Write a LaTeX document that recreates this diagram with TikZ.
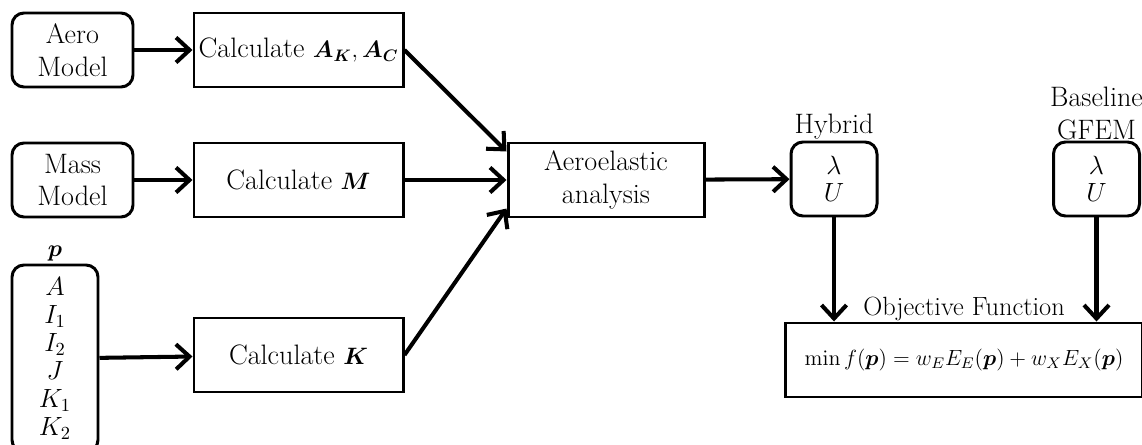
\documentclass[tikz,border=0pt]{standalone}
\usepackage{fix-cm}
\usepackage{amsmath,bm}
\usetikzlibrary{arrows.meta, positioning}

\newcommand{\mathsz}{\fontsize{13.5}{15}\selectfont}

\begin{document}
\begin{tikzpicture}[
        modelbox/.style={rectangle, rounded corners=0.24cm, draw, line width=1.7pt,
                         minimum width=2.42cm, minimum height=1.48cm, align=center,
                         inner sep=1pt},
        calcbox/.style={rectangle, draw, line width=1.7pt,
                        minimum width=4.18cm, minimum height=1.48cm, align=center,
                        inner sep=1pt},
        resbox/.style={rectangle, rounded corners=0.24cm, draw, line width=1.7pt,
                       minimum width=1.72cm, minimum height=1.48cm, align=center,
                       inner sep=1pt, font=\fontsize{15}{15}\selectfont},
        flow/.style={->, line width=2.3pt},
        >={Straight Barb[length=0.27cm, width=0.5cm]},
        font=\fontsize{16}{18.5}\selectfont
    ]
        \useasboundingbox (0,0) rectangle (22.84,-8.9);

        \node[modelbox] (aero) at (1.45,-1.0) {Aero\\Model};
        \node[calcbox] (calcA) at (5.97,-1.0)
            {Calculate {\mathsz$\bm{A_K},\bm{A_C}$}};
        \node[modelbox] (mass) at (1.45,-3.6) {Mass\\Model};
        \node[calcbox] (calcM) at (5.97,-3.6) {Calculate {\mathsz$\bm{M}$}};
        \node[modelbox, minimum width=1.72cm, minimum height=3.74cm,
              font=\fontsize{15}{15.9}\selectfont]
            (param) at (1.1,-7.17)
            {$A$\\$I_1$\\$I_2$\\$J$\\$K_1$\\$K_2$};
        \node[above=-2pt of param] (plabel) {\mathsz$\bm{p}$};
        \node[calcbox] (calcK) at (5.97,-7.1) {Calculate {\mathsz$\bm{K}$}};

        \node[calcbox, minimum width=3.92cm] (aeroel) at (12.12,-3.6)
            {Aeroelastic\\analysis};

        \node[resbox] (hybrid) at (16.68,-3.58) {$\lambda$\\$U$};
        \node[above=-3pt of hybrid] (hlabel) {Hybrid};
        \node[resbox] (base) at (21.93,-3.58) {$\lambda$\\$U$};
        \node[above=-3pt of base, align=center] (blabel) {Baseline\\GFEM};

        \node[calcbox, minimum width=7.14cm, font=\fontsize{12.5}{14}\selectfont]
            (obj) at (19.28,-7.2)
            {$\min f(\bm{p}) = w_E E_E(\bm{p}) + w_X E_X(\bm{p})$};
        \node[above=-3pt of obj, font=\fontsize{15}{17}\selectfont]
            (olabel) {Objective Function};

        \draw[flow] (aero) -- (calcA);
        \draw[flow] (mass) -- (calcM);
        \draw[flow] (param) -- (calcK);
        \draw[flow] (calcA.east) -- (aeroel.164);
        \draw[flow] (calcM) -- (aeroel);
        \draw[flow] (calcK.east) -- (aeroel.196);
        \draw[flow] (aeroel) -- (hybrid);
        \draw[flow] (hybrid.south) -- (hybrid.south |- obj.north);
        \draw[flow] (base.south) -- (base.south |- obj.north);
    \end{tikzpicture}
\end{document}
